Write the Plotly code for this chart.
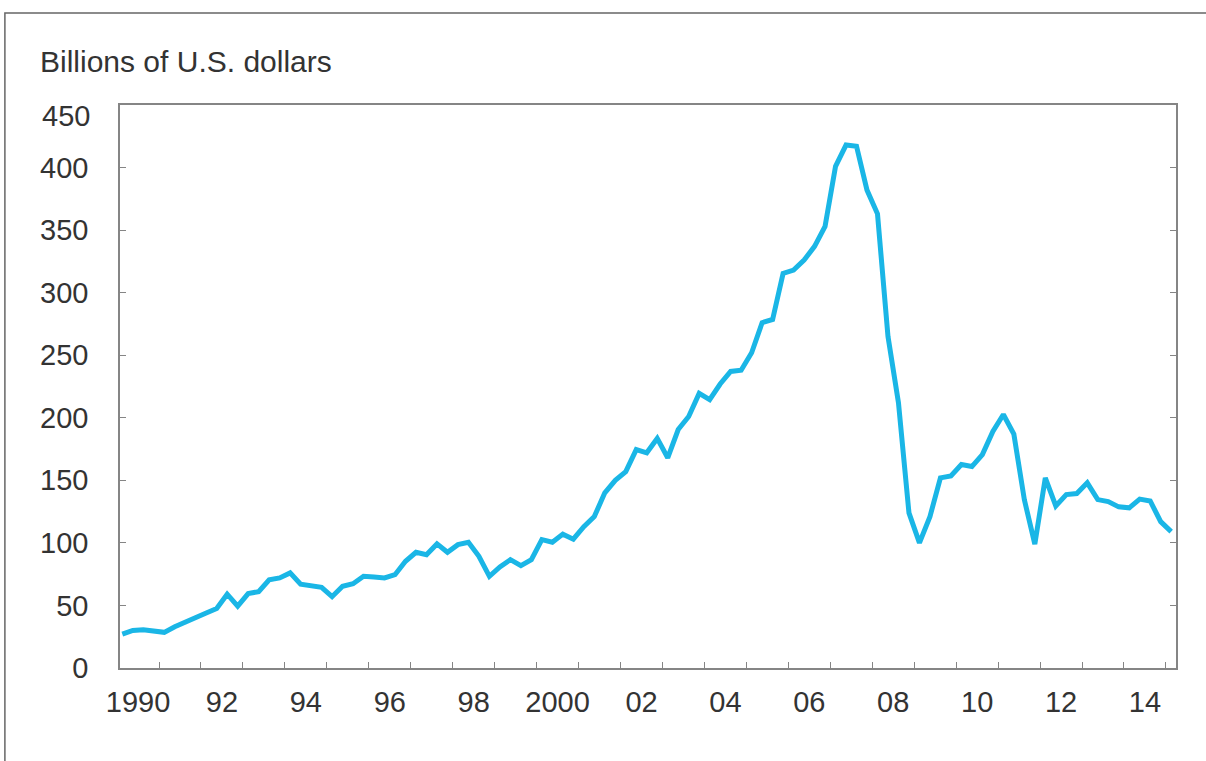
import plotly.graph_objects as go

# Quarterly data, 1990Q1 .. 2015Q1 (billions of U.S. dollars)
start_year = 1990
values = [
    27, 30, 30.5, 29,            # 1990
    28.5, 33, 37, 40.5,          # 1991
    44, 47.5, 59, 49.5,          # 1992
    59.5, 61, 70.5, 72,          # 1993
    76, 67, 66, 64.5,            # 1994
    57, 65.3, 67.4, 73.3,        # 1995
    72.8, 72, 74.6, 85.3,        # 1996
    92.5, 90.6, 99.2, 92.5,      # 1997
    98.6, 100.5, 89.3, 73.3,     # 1998
    80.8, 86.6, 81.8, 86.6,      # 1999
    102.6, 100.5, 107, 103,      # 2000
    113, 121, 140, 150,          # 2001
    157, 174.6, 172, 183.5,      # 2002
    168, 190.6, 201, 219.5,      # 2003
    214.5, 227, 237, 238,        # 2004
    252, 276, 278.6, 315.4,      # 2005
    318, 326, 337, 353,          # 2006
    401, 418, 417, 382,          # 2007
    363, 265, 212, 124,          # 2008
    100, 121, 152, 153.5,        # 2009
    162.6, 161, 170.6, 189,      # 2010
    202.6, 187, 134.6, 99,       # 2011
    152, 129.5, 138.6, 139.4,    # 2012
    148, 134.6, 133, 128.8,      # 2013
    128, 135, 133.5, 117,        # 2014
    109,                         # 2015
]
# mid-quarter positions on a decimal-year axis
x_years = [start_year + (i + 0.5) / 4 for i in range(len(values))]

label_years = list(range(1990, 2015, 2))
tick_text = ["1990", "92", "94", "96", "98", "2000", "02", "04", "06", "08", "10", "12", "14"]
y_ticks = list(range(0, 451, 50))
y_top = y_ticks[-1]
y_tick_text = [str(v) if v != y_top else "" for v in y_ticks]

FONT = "Liberation Sans, Arial, sans-serif"
FS = 29
AXIS_COL = "#858585"
TXT_COL = "#333333"

fig = go.Figure()
fig.add_trace(go.Scatter(
    x=x_years, y=values, mode="lines",
    line=dict(color="#1ab6e6", width=5),
    hoverinfo="skip", showlegend=False,
))

fig.update_layout(
    width=1206, height=761,
    margin=dict(l=120, r=30, t=105, b=93),
    paper_bgcolor="white", plot_bgcolor="white",
    font=dict(family=FONT, size=FS, color=TXT_COL),
    showlegend=False,
    xaxis=dict(
        range=[1990.07, 2015.24],
        tickmode="array",
        tickvals=[y + 0.5 for y in label_years],
        ticktext=tick_text,
        ticks="", showgrid=False, zeroline=False,
        showline=True, linecolor=AXIS_COL, linewidth=1.6, mirror=True,
        tickfont=dict(family=FONT, size=FS, color=TXT_COL),
        ticklabelstandoff=7,
        minor=dict(tick0=1990, dtick=1, ticks="inside", ticklen=6,
                   tickcolor=AXIS_COL, tickwidth=1.2, showgrid=False),
    ),
    yaxis=dict(
        range=[0, 450],
        tickmode="array", tickvals=y_ticks, ticktext=y_tick_text,
        ticks="inside", ticklen=6, tickcolor=AXIS_COL, tickwidth=1.2,
        showgrid=False, zeroline=False,
        showline=True, linecolor=AXIS_COL, linewidth=1.6, mirror="ticks",
        tickfont=dict(family=FONT, size=FS, color=TXT_COL),
        ticklabelstandoff=24,
    ),
    annotations=[
        dict(
            text="Billions of U.S. dollars", xref="paper", yref="paper",
            x=-0.0777, y=1.0764, xanchor="left", yanchor="middle",
            showarrow=False, font=dict(family=FONT, size=30, color=TXT_COL),
        ),
        dict(
            text=str(y_top), xref="paper", yref="y",
            x=(92 - 120) / 1056, y=y_top, xanchor="right", yanchor="middle",
            yshift=-11, showarrow=False,
            font=dict(family=FONT, size=FS, color=TXT_COL),
        ),
    ],
    shapes=[dict(
        type="rect", xref="paper", yref="paper",
        x0=-0.109, y0=-0.4, x1=1.2, y1=1.1634,
        line=dict(color="#666666", width=1.5), fillcolor="rgba(0,0,0,0)",
        layer="below",
    )],
)

fig.write_html(
    "out.html",
    config={"displayModeBar": False},
    post_script="document.body.style.margin='0';document.body.style.overflow='hidden';",
)
